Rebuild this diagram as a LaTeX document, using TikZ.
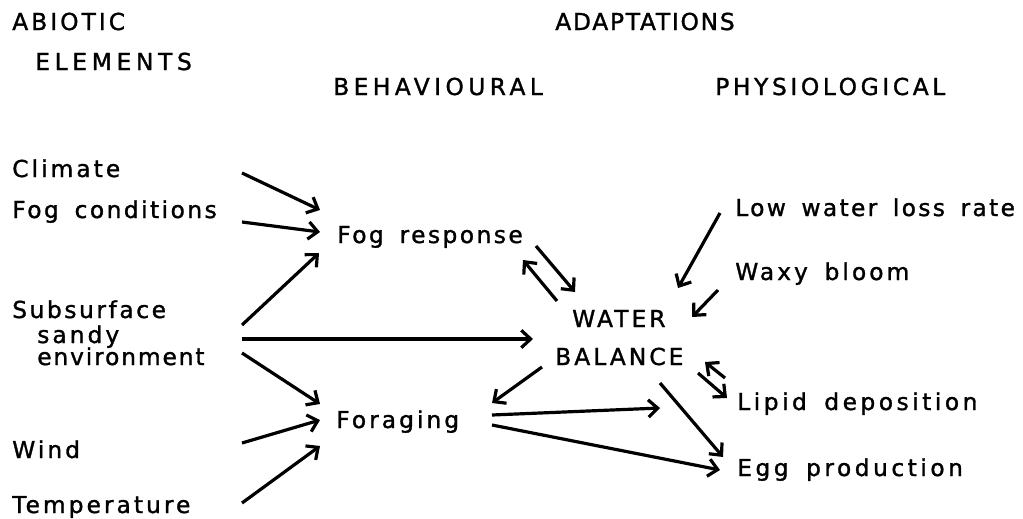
\documentclass[tikz,border=0pt]{standalone}
\usepackage{fontspec}
\setmainfont[LetterSpace=13,FakeBold=1.3,WordSpace=1.6]{DejaVu Sans}
\usetikzlibrary{arrows.meta}
\begin{document}
\begin{tikzpicture}[x=0.75pt,y=-0.75pt,
  lbl/.style={inner sep=0pt,anchor=base west,font=\fontsize{17.5}{20}\selectfont},
  hd/.style={lbl},
  arr/.style={line width=2.4pt,-{Straight Barb[length=7pt,width=13pt,line width=2.4pt]}}]
\path[use as bounding box] (0,0) rectangle (1023,518);
% headings
\node[hd] (abiotic) at (12,30) {ABIOTIC};
\node[hd] (elements) at (35,70) {\addfontfeature{LetterSpace=20}ELEMENTS};
\node[hd] (adapt) at (555,30) {\addfontfeature{LetterSpace=7.5}ADAPTATIONS};
\node[hd] (behav) at (333,95) {\addfontfeature{LetterSpace=19}BEHAVIOURAL};
\node[hd] (physio) at (715,95) {\addfontfeature{LetterSpace=15.5}PHYSIOLOGICAL};
% abiotic elements
\node[lbl] (climate) at (12,177) {Climate};
\node[lbl] (fogc) at (12,218) {\addfontfeature{LetterSpace=10.5}Fog conditions};
\node[lbl] (subs) at (12,318) {\addfontfeature{LetterSpace=11}Subsurface};
\node[lbl] (sandy) at (37,343) {sandy};
\node[lbl] (env) at (37,365) {\addfontfeature{LetterSpace=8}environment};
\node[lbl] (wind) at (12,458) {Wind};
\node[lbl] (temp) at (12,513) {Temperature};
% behavioural
\node[lbl] (fogr) at (337,243) {\addfontfeature{LetterSpace=10.5}Fog response};
\node[lbl] (forag) at (336,428) {Foraging};
% centre
\node[lbl] (water) at (572,327) {WATER};
\node[lbl] (balance) at (555,365) {BALANCE};
% physiological
\node[lbl] (low) at (735,216) {\addfontfeature{LetterSpace=10}Low water loss rate};
\node[lbl] (waxy) at (735,280) {Waxy bloom};
\node[lbl] (lipid) at (737,410) {\addfontfeature{LetterSpace=15}Lipid deposition};
\node[lbl] (egg) at (737,476) {\addfontfeature{LetterSpace=15}Egg production};
\coordinate (openend) at (660,408);
% arrows
\draw[arr] ([shift={(230,-4)}]climate.base west) -- ([shift={(-17,-33)}]fogr.base west);
\draw[arr] ([shift={(230,4)}]fogc.base west) -- ([shift={(-17,-11)}]fogr.base west);
\draw[arr] ([shift={(230,7)}]subs.base west) -- ([shift={(-18,10)}]fogr.base west);
\draw[arr] ([shift={(230,21)}]subs.base west) -- ([shift={(-39,12)}]water.base west);
\draw[arr] ([shift={(230,35)}]subs.base west) -- ([shift={(-16,-24)}]forag.base west);
\draw[arr] ([shift={(230,-15)}]wind.base west) -- ([shift={(-16,-8)}]forag.base west);
\draw[arr] ([shift={(230,-10)}]temp.base west) -- ([shift={(-16,18)}]forag.base west);
\draw[arr] ([shift={(199,3)}]fogr.base west) -- ([shift={(3,-35)}]water.base west);
\draw[arr] ([shift={(-15,-26)}]water.base west) -- ([shift={(186,17)}]fogr.base west);
\draw[arr] ([shift={(-15,-3)}]low.base west) -- ([shift={(106,-39)}]water.base west);
\draw[arr] ([shift={(-17,10)}]waxy.base west) -- ([shift={(120,-10)}]water.base west);
\draw[arr] ([shift={(-13,2)}]balance.base west) -- ([shift={(156,-25)}]forag.base west);
\draw[arr] ([shift={(-12,-32)}]lipid.base west) -- ([shift={(150,-3)}]balance.base west);
\draw[arr] ([shift={(143,8)}]balance.base west) -- ([shift={(-10,-12)}]lipid.base west);
\draw[arr] ([shift={(105,18)}]balance.base west) -- ([shift={(-14,-19)}]egg.base west);
\draw[arr] ([shift={(156,-13)}]forag.base west) -- (openend);
\draw[arr] ([shift={(156,-3)}]forag.base west) -- ([shift={(-17,-6)}]egg.base west);
\end{tikzpicture}
\end{document}
